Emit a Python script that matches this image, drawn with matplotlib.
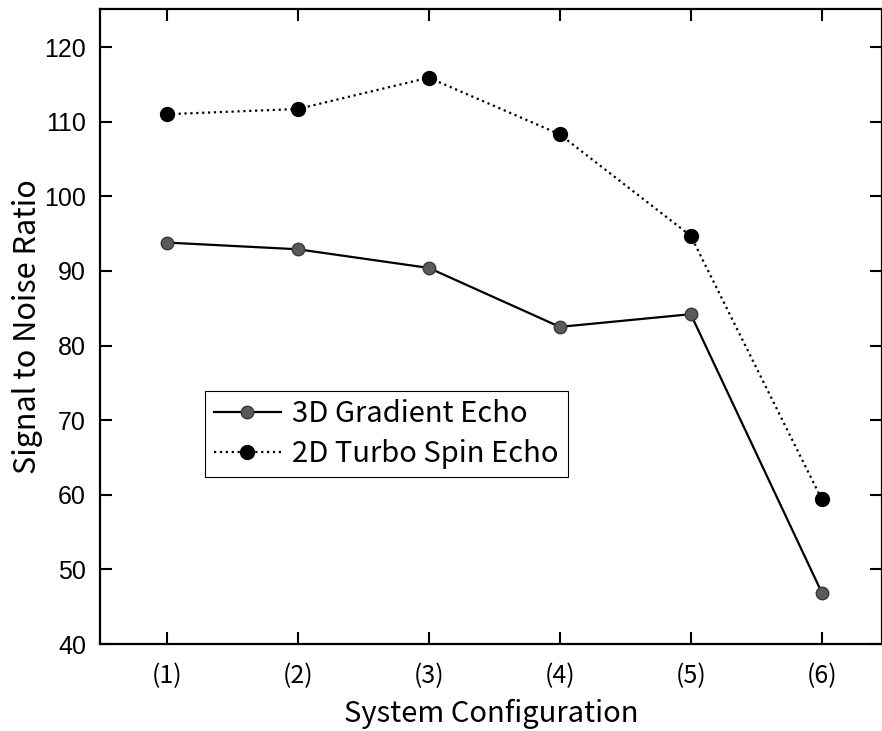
import matplotlib
matplotlib.use("Agg")
import matplotlib.pyplot as plt

# data
configs = ["(1)", "(2)", "(3)", "(4)", "(5)", "(6)"]
gradient_echo = [93.8, 92.9, 90.4, 82.5, 84.2, 46.9]
turbo_spin_echo = [111.0, 111.7, 115.9, 108.3, 94.7, 59.4]
y_ticks = [40, 50, 60, 70, 80, 90, 100, 110, 120]

gothic = ["Noto Sans CJK JP", "DejaVu Sans"]

fig = plt.figure(figsize=(8.82, 7.31), dpi=100)
ax = fig.add_axes([100 / 882, 87 / 731, 782 / 882, 635 / 731])

x = range(1, len(configs) + 1)
ax.plot(x, gradient_echo, "-", color="black", lw=1.6, marker="o", ms=9,
        mfc="#5a5a5a", mec="#3a3a3a", mew=1.0, label="3D Gradient Echo", zorder=3)
ax.plot(x, turbo_spin_echo, ":", color="black", lw=1.6, marker="o", ms=10,
        mfc="black", mec="black", label="2D Turbo Spin Echo", zorder=3)

ax.set_xlim(0.49, 6.46)
ax.set_ylim(40, 125.1)
ax.set_xticks(list(x))
ax.set_xticklabels(configs, family=gothic, fontsize=18)
ax.set_yticks(y_ticks)
ax.set_yticklabels([str(v) for v in y_ticks], family="Liberation Sans", fontsize=18)

ax.tick_params(direction="in", length=8.5, width=1.5, top=True, right=True, pad=10)
ax.tick_params(axis="x", pad=14)
for s in ax.spines.values():
    s.set_linewidth(1.6)

ax.set_xlabel("System Configuration", family=gothic, fontsize=21, labelpad=7)
ax.set_ylabel("Signal to Noise Ratio", family=gothic, fontsize=22, labelpad=1)

leg = ax.legend(loc="upper left", bbox_to_anchor=(0.134, 0.399), borderaxespad=0,
                prop={"family": gothic, "size": 21}, fancybox=False, framealpha=1,
                edgecolor="black", handlelength=2.3, handletextpad=0.4,
                labelspacing=0.32, borderpad=0.3)
leg.get_frame().set_linewidth(0.8)

fig.savefig("out.png", dpi=100)
